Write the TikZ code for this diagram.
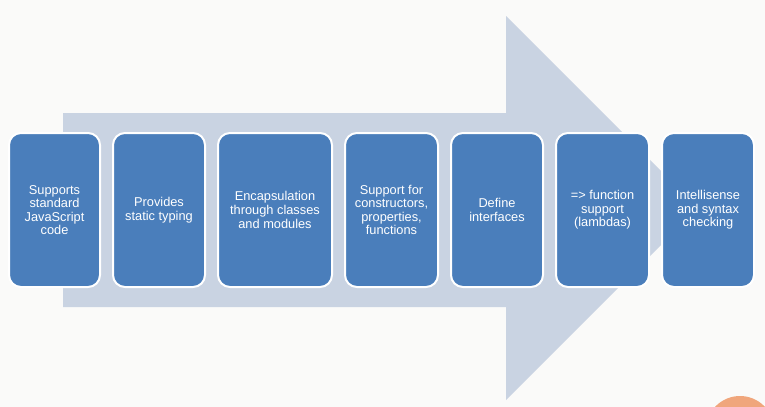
\documentclass[tikz,border=0pt]{standalone}
\usepackage{fontspec}
\setmainfont{Liberation Sans}
\usetikzlibrary{positioning}

\definecolor{bgcol}{RGB}{250,250,249}
\definecolor{arrowcol}{RGB}{201,211,226}
\definecolor{boxcol}{RGB}{74,126,187}
\definecolor{dotcol}{RGB}{240,166,124}

\tikzset{every picture/.style={line width=0.75pt}}
\tikzset{featbox/.style={draw=white, line width=1.5pt, fill=boxcol, rounded corners=9pt,
    text=white, align=center, minimum height=115.5pt, inner sep=2pt,
    font=\fontsize{9.6}{10.2}\selectfont}}

\begin{document}
\begin{tikzpicture}[x=0.75pt,y=0.75pt,yscale=-1,xscale=1, node distance=8.25pt]
\useasboundingbox (0,0) rectangle (765,407);
\clip (0,0) rectangle (765,407);
\fill [bgcol] (0,0) rectangle (765,407);

%Shape: Right Arrow [id:arrow]
\fill [arrowcol] (63,113) -- (506,113) -- (506,16) -- (698,208) -- (506,400) -- (506,307) -- (63,307) -- cycle ;
%Shape: Circle [id:dot]
\fill [dotcol] (740,430) circle (34) ;

% Rounded Rect
\node [featbox, minimum width=68.25pt, anchor=west] (js) at (8,210) {Supports\\standard\\JavaScript\\code};
% Rounded Rect
\node [featbox, minimum width=69pt, right=of js] (typing) {Provides\\static typing};
% Rounded Rect
\node [featbox, minimum width=85.5pt, right=of typing] (classes) {Encapsulation\\through classes\\and modules};
% Rounded Rect
\node [featbox, minimum width=69.75pt, right=of classes] (ctors) {Support for\\constructors,\\properties,\\functions};
% Rounded Rect
\node [featbox, minimum width=69pt, right=of ctors] (ifaces) {Define\\interfaces};
% Rounded Rect
\node [featbox, minimum width=69.75pt, right=of ifaces] (lambdas) {=> function\\support\\(lambdas)};
% Rounded Rect
\node [featbox, minimum width=69pt, right=of lambdas] (intelli) {Intellisense\\and syntax\\checking};

\end{tikzpicture}
\end{document}
